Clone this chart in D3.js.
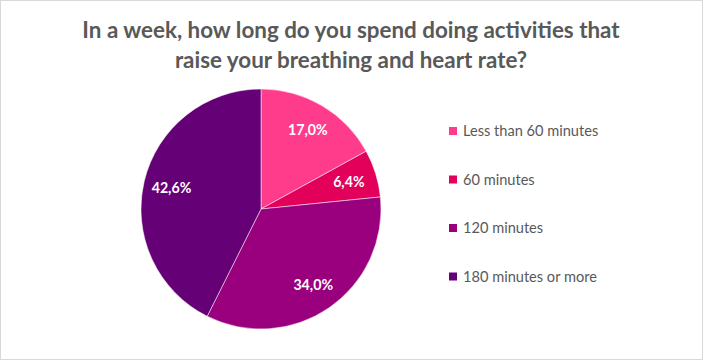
<!DOCTYPE html>
<html><head><meta charset="utf-8">
<script src="https://cdn.jsdelivr.net/npm/d3@7"></script>
<style>body{margin:0;background:#fff;} text{font-family:Lato,"Open Sans",sans-serif;}</style>
</head><body>
<svg id="c" width="703" height="360"></svg>
<script>
const categories = ["Less than 60 minutes", "60 minutes", "120 minutes", "180 minutes or more"];
const values = [17.0, 6.4, 34.0, 42.6];
const colors = ["#FF3C8C", "#E2005A", "#9A007E", "#660077"];
const titleLines = ["In a week, how long do you spend doing activities that", "raise your breathing and heart rate?"];

const svg = d3.select("#c");
svg.append("rect").attr("x",0.5).attr("y",0.5).attr("width",702).attr("height",359)
  .attr("fill","#fff").attr("stroke","#d9d9d9");

svg.append("g").selectAll("text").data(titleLines).join("text")
  .attr("x",351).attr("y",(d,i)=>38+i*30).attr("text-anchor","middle")
  .attr("font-size",22.4).attr("font-weight","bold").attr("fill","#595959").text(d=>d);

const cx=261, cy=209, r=120;
const pie = d3.pie().sort(null).value(d=>d)(values);
const arc = d3.arc().innerRadius(0).outerRadius(r);
const labelArc = d3.arc().innerRadius(92).outerRadius(92);
const g = svg.append("g").attr("transform",`translate(${cx},${cy})`);
g.selectAll("path").data(pie).join("path").attr("d",arc)
  .attr("fill",(d,i)=>colors[i]).attr("stroke","#fff").attr("stroke-width",0.5);
g.selectAll("text").data(pie).join("text")
  .attr("transform",d=>`translate(${labelArc.centroid(d)})`)
  .attr("text-anchor","middle").attr("dy","0.35em")
  .attr("font-size",14.2).attr("font-weight","bold").attr("fill","#fff")
  .text(d=>d3.format(".1f")(d.data).replace(".",",")+"%");

const leg = svg.append("g").selectAll("g").data(categories).join("g")
  .attr("transform",(d,i)=>`translate(449,${131+i*48.5})`);
leg.append("rect").attr("x",0).attr("y",-4).attr("width",8).attr("height",8).attr("fill",(d,i)=>colors[i]);
leg.append("text").attr("x",14).attr("dy","0.35em").attr("font-size",14.6).attr("fill","#595959").text(d=>d);
</script>
</body></html>
